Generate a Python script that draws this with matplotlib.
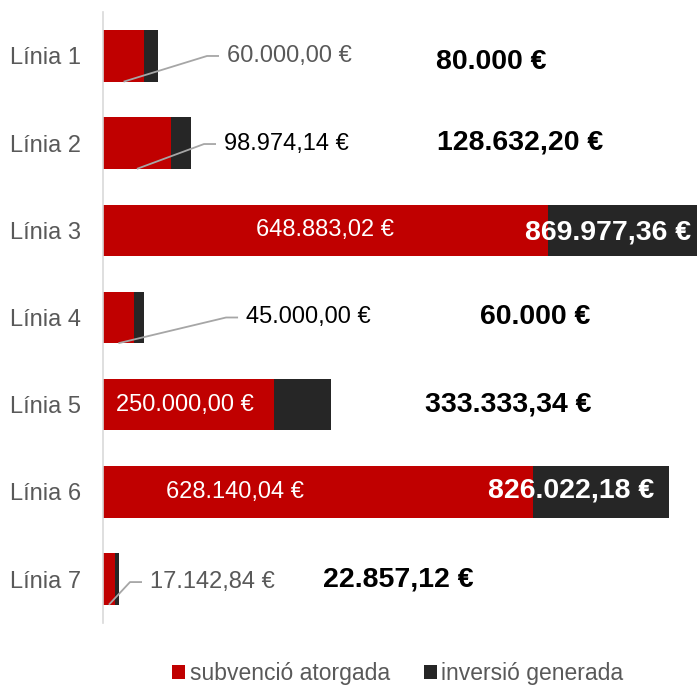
import matplotlib
matplotlib.use("Agg")
import matplotlib.pyplot as plt
import numpy as np

plt.rcParams['font.family'] = ['Liberation Sans', 'DejaVu Sans']

# data
categories = ['Línia 1', 'Línia 2', 'Línia 3', 'Línia 4', 'Línia 5', 'Línia 6', 'Línia 7']
subvencio = [60000.00, 98974.14, 648883.02, 45000.00, 250000.00, 628140.04, 17142.84]
inversio = [80000.00, 128632.20, 869977.36, 60000.00, 333333.34, 826022.18, 22857.12]
subv_labels = ['60.000,00 €', '98.974,14 €', '648.883,02 €', '45.000,00 €',
               '250.000,00 €', '628.140,04 €', '17.142,84 €']
inv_labels = ['80.000 €', '128.632,20 €', '869.977,36 €', '60.000 €',
              '333.333,34 €', '826.022,18 €', '22.857,12 €']

# label layout (data units on x, category offsets on y; y axis is inverted)
subv_pos = [181000, 176600, 324400, 208800, 119700, 192700, 68600]
subv_inside = [False, False, True, False, True, True, False]
subv_color = ['#595959', 'black', 'white', 'black', 'white', 'white', '#595959']
subv_dy = [0.0, 0.01, 0.0, 0.0, 0.0, 0.0, 0.035]
inv_pos = [566400, 608800, 737200, 630700, 591200, 683200, 430700]
inv_color = ['black', 'black', 'white', 'black', 'black', 'white', 'black']
inv_dy = [0.07, -0.01, 0.03, 0.0, 0.0, -0.02, 0.0]

RED = '#C00000'
DARK = '#262626'
GRAY = '#595959'

fig = plt.figure(figsize=(6.97, 6.87), dpi=100)
ax = fig.add_axes([103 / 697, 1 - 622.6 / 687, 1 - 103 / 697, (622.6 - 12.4) / 687])

y = np.arange(len(categories))
subv = np.array(subvencio)
rest = np.array(inversio) - subv
h = 0.59
ax.barh(y, subv, height=h, color=RED, label='subvenció atorgada')
ax.barh(y, rest, left=subv, height=h, color=DARK, label='inversió generada')

ax.set_xlim(0, 867000)
ax.set_ylim(len(categories) - 0.5, -0.5)
ax.set_yticks(y)
ax.set_yticklabels(categories, fontsize=17, color=GRAY)
ax.tick_params(axis='y', length=0, pad=16)
ax.set_xticks([])
for s in ['top', 'right', 'bottom']:
    ax.spines[s].set_visible(False)
ax.spines['left'].set_color('#D9D9D9')
ax.spines['left'].set_linewidth(1.2)

px = 867000 / (697 - 103)  # data units per pixel
for i in range(len(categories)):
    yy = y[i] + subv_dy[i]
    if subv_inside[i]:
        ax.text(subv_pos[i], yy, subv_labels[i], ha='center', va='center',
                fontsize=17, color=subv_color[i])
    else:
        ax.text(subv_pos[i], yy, subv_labels[i], ha='left', va='center',
                fontsize=17, color=subv_color[i])
        # leader line from bottom of red segment to the label
        xs = [subv[i] / 2, subv_pos[i] - 20 * px, subv_pos[i] - 8 * px]
        ys = [y[i] + h / 2, yy, yy]
        ax.plot(xs, ys, color='#A6A6A6', lw=1.3, solid_capstyle='butt')
    ax.text(inv_pos[i], y[i] + inv_dy[i], inv_labels[i], ha='center', va='center',
            fontsize=20.5, fontweight='bold', color=inv_color[i])

leg = fig.legend(loc='center', bbox_to_anchor=(0.571, 0.019), ncol=2, frameon=False,
                 fontsize=16.5, handlelength=0.55, handleheight=0.55,
                 handletextpad=0.2, columnspacing=1.5, labelcolor=GRAY)

fig.savefig('out.png', dpi=100)
